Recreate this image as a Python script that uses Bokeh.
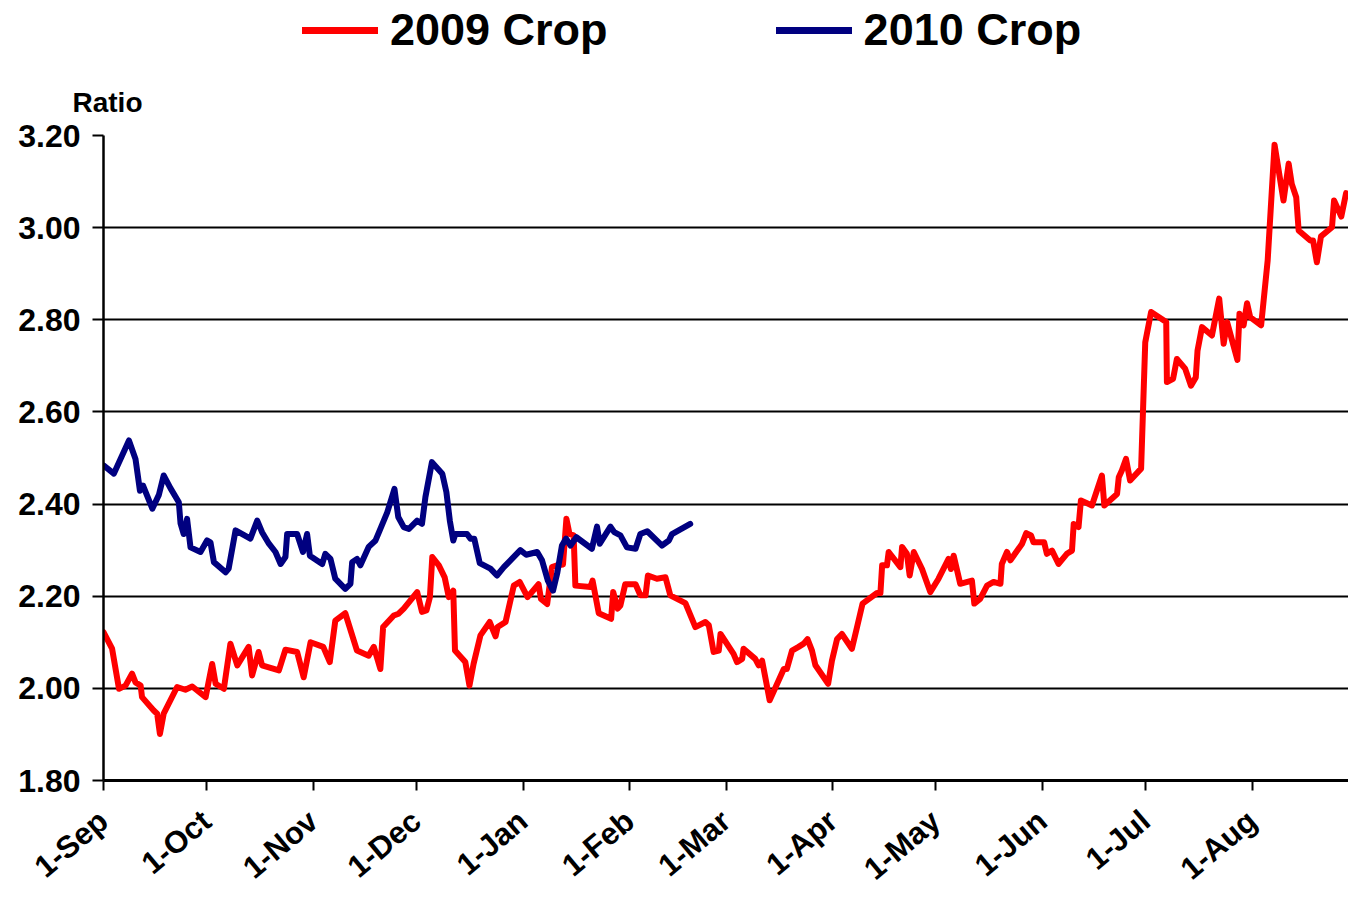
from bokeh.plotting import figure
from bokeh.layouts import column
from bokeh.models import (Range1d, FixedTicker, NumeralTickFormatter, Legend, LegendItem, Title)
from bokeh.embed import file_html
from bokeh.resources import INLINE

# ---- data ----
# x = days since 1-Sep
month_ticks = [0, 30, 61, 91, 122, 153, 181, 212, 242, 273, 303, 334]
month_labels = ["1-Sep", "1-Oct", "1-Nov", "1-Dec", "1-Jan", "1-Feb", "1-Mar",
                "1-Apr", "1-May", "1-Jun", "1-Jul", "1-Aug"]
y_ticks = [1.8, 2.0, 2.2, 2.4, 2.6, 2.8, 3.0, 3.2]
series_names = ["2009 Crop", "2010 Crop"]

crop2009_day = [0, 2.5, 4.5, 6.4, 8.3, 9.3, 10.8, 11.2, 14.6, 15.6, 16.4, 17.5, 21.4, 23.8,
                25.8, 29.7, 31.6, 32.6, 35.0, 36.9, 38.9, 42.2, 43.2, 45.1, 46.1, 51.0, 52.9,
                56.3, 58.2, 60.2, 63.9, 65.8, 67.4, 70.3, 73.7, 77.1, 78.6, 80.5, 81.3, 84.4,
                85.8, 87.3, 91.2, 92.6, 93.9, 94.9, 95.6, 97.5, 99.2, 100.4, 101.7, 102.2,
                105.2, 106.4, 107.6, 109.6, 112.3, 114.0, 114.6, 116.9, 119.3, 121.0, 123.3,
                126.5, 127.2, 129.0, 130.4, 131.9, 133.6, 134.6, 135.5, 136.7, 137.2, 141.6,
                142.2, 144.0, 147.6, 148.2, 149.5, 150.3, 151.7, 154.7, 156.1, 157.6, 158.3,
                160.9, 163.4, 164.8, 169.2, 172.1, 175.0, 176.0, 177.4, 178.9, 179.4, 183.2,
                184.2, 185.7, 186.1, 189.5, 190.5, 191.5, 193.7, 196.3, 197.8, 198.7, 200.2,
                202.1, 203.6, 204.7, 206.0, 207.0, 210.7, 211.8, 213.3, 214.7, 217.6, 219.1,
                220.7, 224.9, 225.9, 226.4, 227.8, 228.3, 231.7, 232.2, 233.6, 234.4, 235.6,
                238.0, 240.4, 242.8, 245.7, 246.4, 247.2, 249.1, 252.5, 253.2, 254.9, 256.9,
                258.8, 260.8, 261.2, 262.7, 263.7, 267.1, 268.3, 269.7, 270.4, 273.5, 274.3,
                275.8, 277.7, 280.1, 281.6, 282.1, 283.5, 284.2, 287.4, 290.3, 291.0, 294.7,
                295.2, 296.1, 297.3, 298.5, 301.7, 302.9, 304.6, 309.0, 309.2, 311.0, 312.1,
                314.5, 316.2, 317.6, 318.1, 319.4, 322.3, 324.4, 325.7, 326.7, 329.7, 330.3,
                331.5, 332.5, 333.4, 336.6, 338.5, 340.5, 343.1, 344.6, 345.5, 346.8, 347.5,
                350.9, 351.7, 352.8, 354.0, 357.2, 357.8, 359.9, 361.3]
crop2009_ratio = [2.122, 2.086, 1.999, 2.006, 2.032, 2.013, 2.006, 1.981, 1.952, 1.945, 1.901,
                  1.945, 2.003, 1.997, 2.004, 1.981, 2.053, 2.010, 1.999, 2.097, 2.050, 2.090,
                  2.028, 2.079, 2.050, 2.039, 2.084, 2.079, 2.024, 2.100, 2.090, 2.057, 2.147,
                  2.163, 2.082, 2.071, 2.090, 2.042, 2.133, 2.158, 2.162, 2.173, 2.209, 2.166,
                  2.169, 2.198, 2.285, 2.267, 2.241, 2.198, 2.212, 2.082, 2.057, 2.006, 2.053,
                  2.115, 2.144, 2.113, 2.133, 2.144, 2.223, 2.231, 2.198, 2.226, 2.194, 2.183,
                  2.263, 2.267, 2.269, 2.368, 2.335, 2.332, 2.223, 2.220, 2.234, 2.163, 2.151,
                  2.209, 2.173, 2.180, 2.226, 2.226, 2.202, 2.202, 2.245, 2.238, 2.241, 2.202,
                  2.185, 2.133, 2.144, 2.137, 2.079, 2.082, 2.118, 2.075, 2.057, 2.064, 2.086,
                  2.064, 2.050, 2.060, 1.974, 2.017, 2.042, 2.042, 2.082, 2.090, 2.097, 2.107,
                  2.082, 2.050, 2.010, 2.060, 2.107, 2.118, 2.086, 2.133, 2.184, 2.207, 2.207,
                  2.267, 2.267, 2.296, 2.263, 2.307, 2.292, 2.245, 2.296, 2.259, 2.209, 2.238,
                  2.281, 2.259, 2.288, 2.227, 2.234, 2.184, 2.194, 2.223, 2.231, 2.227, 2.270,
                  2.296, 2.278, 2.314, 2.337, 2.332, 2.317, 2.317, 2.292, 2.299, 2.270, 2.292,
                  2.299, 2.357, 2.350, 2.408, 2.397, 2.462, 2.397, 2.422, 2.458, 2.473, 2.498,
                  2.451, 2.477, 2.751, 2.817, 2.795, 2.665, 2.672, 2.715, 2.694, 2.657, 2.675,
                  2.733, 2.784, 2.766, 2.846, 2.748, 2.795, 2.713, 2.813, 2.788, 2.836, 2.806,
                  2.788, 2.929, 3.180, 3.059, 3.139, 3.095, 3.066, 2.994, 2.972, 2.972, 2.925,
                  2.981, 3.001, 3.059, 3.024, 3.075]

crop2010_day = [0, 3.0, 7.4, 9.3, 10.6, 11.5, 14.2, 16.1, 17.5, 19.5, 21.9, 22.4, 23.3, 24.3,
                25.3, 28.2, 30.1, 31.1, 32.1, 35.5, 36.4, 38.4, 42.7, 44.7, 46.1, 48.1, 50.0,
                51.5, 52.9, 53.4, 56.3, 58.0, 59.2, 60.0, 63.6, 64.5, 66.0, 67.4, 70.3, 71.8,
                72.3, 73.7, 74.7, 77.1, 79.1, 80.5, 82.5, 84.6, 85.7, 87.3, 88.8, 91.2, 92.6,
                93.6, 95.5, 98.5, 99.7, 100.7, 101.7, 102.3, 105.7, 106.7, 107.8, 109.4, 112.5,
                114.4, 116.4, 121.2, 122.9, 126.1, 127.5, 129.2, 130.7, 131.9, 133.3, 134.5,
                135.8, 137.5, 142.0, 143.5, 144.3, 147.4, 148.5, 150.3, 152.2, 154.7, 156.1,
                158.1, 162.4, 164.4, 165.3, 170.6]
crop2010_ratio = [2.484, 2.466, 2.538, 2.498, 2.429, 2.440, 2.390, 2.420, 2.462, 2.434, 2.404,
                  2.358, 2.335, 2.368, 2.306, 2.296, 2.321, 2.317, 2.274, 2.252, 2.260, 2.343,
                  2.325, 2.364, 2.339, 2.314, 2.296, 2.270, 2.285, 2.335, 2.335, 2.296, 2.335,
                  2.288, 2.270, 2.292, 2.281, 2.238, 2.216, 2.227, 2.274, 2.281, 2.267, 2.307,
                  2.321, 2.346, 2.382, 2.433, 2.372, 2.350, 2.346, 2.364, 2.357, 2.415, 2.491,
                  2.466, 2.426, 2.364, 2.321, 2.335, 2.335, 2.325, 2.325, 2.272, 2.260, 2.245,
                  2.263, 2.300, 2.290, 2.296, 2.278, 2.234, 2.212, 2.249, 2.310, 2.325, 2.310,
                  2.328, 2.303, 2.351, 2.314, 2.351, 2.339, 2.332, 2.306, 2.303, 2.335, 2.341,
                  2.310, 2.321, 2.335, 2.357]

FONT = "Liberation Sans"
RED = "#FF0000"
NAVY = "#000080"
W = 1348
TOP_H = 65

# ---------------- header strip holding the legend ----------------
# (same series drawn against a y-range far from the data, so only the legend shows)
top = figure(width=W, height=TOP_H, output_backend="svg", toolbar_location=None,
             x_range=Range1d(0, 362), y_range=Range1d(100, 101),
             x_axis_type=None, y_axis_type=None,
             min_border_left=0, min_border_right=0, min_border_top=0, min_border_bottom=0)
top.outline_line_color = None
top.background_fill_color = "white"
top.border_fill_color = "white"
k1 = top.line(crop2009_day, crop2009_ratio, line_color=RED, line_width=7, line_cap="round")
k2 = top.line(crop2010_day, crop2010_ratio, line_color=NAVY, line_width=7, line_cap="round")
legend = Legend(items=[LegendItem(label=series_names[0], renderers=[k1]),
                       LegendItem(label=series_names[1], renderers=[k2])],
                orientation="horizontal", location=(199, 9),
                label_text_font=FONT, label_text_font_style="bold",
                label_text_font_size="45px", label_text_color="black",
                glyph_width=76, glyph_height=40, label_standoff=12, spacing=168,
                padding=0, margin=0, border_line_color=None, background_fill_alpha=0)
top.add_layout(legend, "center")

# ---------------- main chart ----------------
p = figure(width=W, height=903 - TOP_H, output_backend="svg", toolbar_location=None,
           x_range=Range1d(0, 362), y_range=Range1d(1.8, 3.2),
           min_border_left=103, min_border_right=0, min_border_top=70, min_border_bottom=123)
p.outline_line_color = None
p.background_fill_color = "white"
p.border_fill_color = "white"

p.line(crop2009_day, crop2009_ratio, line_color=RED, line_width=6,
       line_join="round", line_cap="round")
p.line(crop2010_day, crop2010_ratio, line_color=NAVY, line_width=6,
       line_join="round", line_cap="round")

# "Ratio" caption above the value axis
ratio = Title(text="Ratio", align="left", offset=-31, standoff=35,
              text_font=FONT, text_font_style="bold", text_font_size="28px",
              text_color="black")
p.add_layout(ratio, "above")

# grid
p.xgrid.grid_line_color = None
p.ygrid.grid_line_color = "black"
p.ygrid.grid_line_width = 2
p.ygrid.ticker = FixedTicker(ticks=y_ticks)

# y axis
p.yaxis.ticker = FixedTicker(ticks=y_ticks)
p.yaxis.formatter = NumeralTickFormatter(format="0.00")
p.yaxis.major_label_text_font = FONT
p.yaxis.major_label_text_font_style = "bold"
p.yaxis.major_label_text_font_size = "32px"
p.yaxis.major_label_text_color = "black"
p.yaxis.major_label_standoff = 12
p.yaxis.axis_line_width = 2.5
p.yaxis.axis_line_color = "black"
p.yaxis.major_tick_in = 0
p.yaxis.major_tick_out = 11
p.yaxis.major_tick_line_width = 2
p.yaxis.minor_tick_line_color = None

# x axis
p.xaxis.ticker = FixedTicker(ticks=month_ticks)
p.xaxis.major_label_overrides = {t: l for t, l in zip(month_ticks, month_labels)}
p.xaxis.major_label_orientation = 0.70
p.xaxis.major_label_text_font = FONT
p.xaxis.major_label_text_font_style = "bold"
p.xaxis.major_label_text_font_size = "31px"
p.xaxis.major_label_text_color = "black"
p.xaxis.major_label_standoff = 26
p.xaxis.axis_line_width = 3
p.xaxis.axis_line_color = "black"
p.xaxis.major_tick_in = 0
p.xaxis.major_tick_out = 10
p.xaxis.major_tick_line_width = 2
p.xaxis.minor_tick_line_color = None

layout = column(top, p, spacing=0)
open("out.html", "w").write(file_html(layout, INLINE))
